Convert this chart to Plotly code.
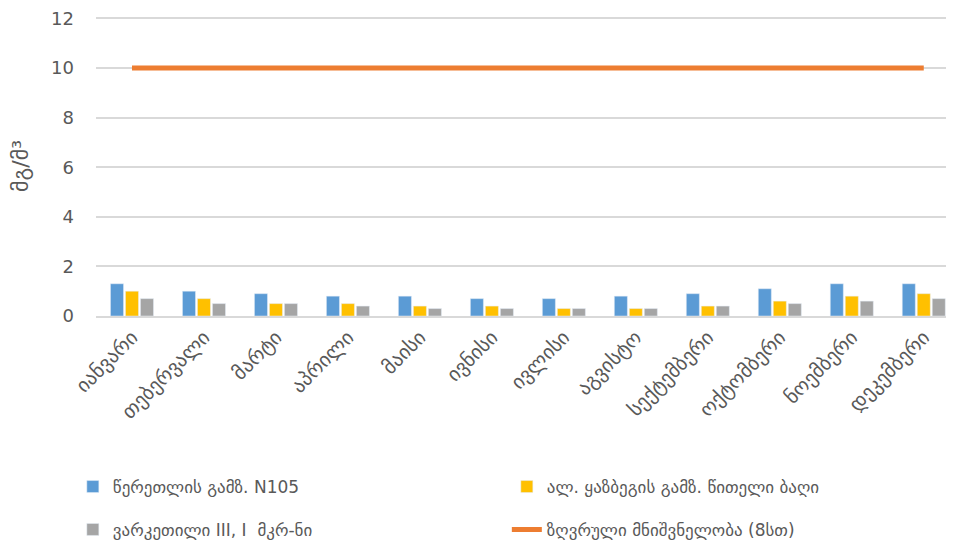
import plotly.graph_objects as go

months = ["იანვარი", "თებერვალი", "მარტი", "აპრილი", "მაისი", "ივნისი",
          "ივლისი", "აგვისტო", "სექტემბერი", "ოქტომბერი", "ნოემბერი", "დეკემბერი"]

tsereteli = [1.3, 1.0, 0.9, 0.8, 0.8, 0.7, 0.7, 0.8, 0.9, 1.1, 1.3, 1.3]
kazbegi = [1.0, 0.7, 0.5, 0.5, 0.4, 0.4, 0.3, 0.3, 0.4, 0.6, 0.8, 0.9]
varketili = [0.7, 0.5, 0.5, 0.4, 0.3, 0.3, 0.3, 0.3, 0.4, 0.5, 0.6, 0.7]
limit = [10] * 12

names = ["წერეთლის გამზ. N105", "ალ. ყაზბეგის გამზ. წითელი ბაღი",
         "ვარკეთილი III, I  მკრ-ნი", "ზღვრული მნიშვნელობა (8სთ)"]

font = "DejaVu Sans, Noto Sans, sans-serif"
grey = "#595959"

fig = go.Figure()
fig.add_bar(x=months, y=tsereteli, name=names[0], marker_color="#5B9BD5",
            legend="legend")
fig.add_bar(x=months, y=kazbegi, name=names[1], marker_color="#FFC000",
            legend="legend")
fig.add_bar(x=months, y=varketili, name=names[2], marker_color="#A5A5A5",
            legend="legend2")
fig.add_scatter(x=months, y=limit, name=names[3], mode="lines",
                line=dict(color="#ED7D31", width=5), legend="legend2")

legend_common = dict(orientation="h", x=-0.027, xanchor="left", yanchor="middle",
                     entrywidth=389, entrywidthmode="pixels",
                     font=dict(size=17, color=grey), traceorder="normal",
                     bgcolor="rgba(0,0,0,0)")

# page body adds 8px, so the figure is sized to the remaining window
fig.update_layout(
    width=946, height=540,
    margin=dict(l=88, r=0, t=8, b=232, autoexpand=False),
    plot_bgcolor="white", paper_bgcolor="white",
    font=dict(family=font, color=grey, size=16),
    barmode="group", bargap=0.375, bargroupgap=0.13,
    showlegend=True,
    legend=dict(legend_common, y=-0.57),
    legend2=dict(legend_common, y=-0.713),
)
fig.update_xaxes(tickangle=-45, tickfont=dict(size=20), showgrid=False,
                 range=[-0.5, 11.42],
                 showline=True, linecolor="#D9D9D9", linewidth=1.5, ticks="")
fig.update_yaxes(range=[0, 12.1], dtick=2, gridcolor="#D9D9D9", gridwidth=1.5,
                 zeroline=False, tickfont=dict(size=18), ticks="",
                 ticklabelstandoff=21, ticklabeloverflow="allow",
                 title=dict(text="მგ/მ³", font=dict(size=22), standoff=16))

fig.write_html("out.html")
